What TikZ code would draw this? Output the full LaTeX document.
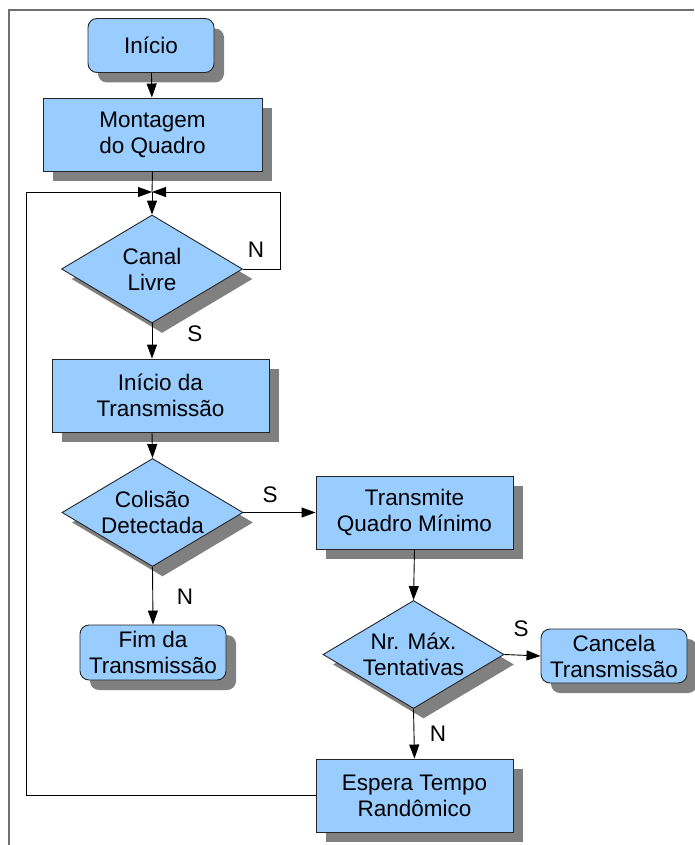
\documentclass[tikz,border=0pt]{standalone}
\usepackage{fontspec}
\setmainfont{Liberation Sans}
\usetikzlibrary{shapes.geometric,shadows,arrows.meta}
\definecolor{boxblue}{HTML}{99CCFF}
\definecolor{shadowgray}{HTML}{808080}
\definecolor{framegray}{HTML}{707070}
\tikzset{
  base/.style={draw=black!85, line width=0.9pt, fill=boxblue,
    font=\fontsize{22.5}{26}\selectfont, align=center, inner sep=0pt,
    drop shadow={shadow xshift=10pt, shadow yshift=-10pt, fill=shadowgray, opacity=1}},
  procbox/.style={base, rectangle, minimum height=73pt},
  termbox/.style={base, rectangle, rounded corners=9pt, minimum height=54pt},
  decision/.style={base, diamond, inner sep=-14pt, minimum width=181pt, minimum height=108pt},
  flowlabel/.style={font=\fontsize{22.5}{26}\selectfont, inner sep=0pt},
  conn/.style={line width=0.9pt, black},
  arr/.style={conn, -{Triangle[length=14pt, width=10pt]}}
}
\begin{document}
\begin{tikzpicture}[x=1pt, y=-1pt]
\useasboundingbox (0,0) rectangle (694,845);
% outer frame
\draw[framegray, line width=2pt] (9,845) -- (9,10) -- (694,10);

% nodes
\node[termbox, minimum width=126pt] (inicio) at (151,45.5) {Início};
\node[procbox, minimum width=219pt] (montagem) at (152.5,134.5) {Montagem\\do Quadro};
\node[decision] (canal) at (152,269) {Canal\\Livre};
\node[procbox, minimum width=217pt] (iniciotx) at (160.5,395.5) {Início da\\Transmissão};
\node[decision] (colisao) at (152.5,512.5) {Colisão\\Detectada};
\node[procbox, minimum width=197pt] (transmite) at (414.5,512.5) {Transmite\\Quadro Mínimo};
\node[termbox, minimum width=146pt, minimum height=55pt] (fim) at (153,652.5) {Fim da\\Transmissão};
\node[decision] (maximo) at (413.5,654.5) {Nr. Máx.\\Tentativas};
\node[termbox, minimum width=146pt] (cancela) at (614,656) {Cancela\\Transmissão};
\node[procbox, minimum width=197pt] (espera) at (414.5,795.5) {Espera Tempo\\Randômico};

% junction above the channel test
\coordinate (j) at (152,192);
\coordinate (loopR) at (280,192);
\coordinate (loopL) at (26,192);

% connectors
\draw[arr] (inicio) -- (montagem);
\draw[conn] (montagem.south) -- (j);
\draw[arr] (j) -- (canal.north);
\draw[arr] (canal.east) -| (loopR) -- (j);
\draw[arr] (espera.west) -| (loopL) -- (j);
\draw[arr] (canal.south) -- (canal.south |- iniciotx.north);
\draw[arr] (canal.south |- iniciotx.south) -- (colisao.north);
\draw[arr] (colisao.east) -- (transmite.west);
\draw[arr] (colisao.south) -- (fim.north);
\draw[arr] (transmite.south) -- (maximo.north);
\draw[arr] (maximo.east) -- (cancela.west);
\draw[arr] (maximo.south) -- (espera.north);

% branch labels
\node[flowlabel] (lblN1) at (256,250) {N};
\node[flowlabel] (lblS1) at (195,334) {S};
\node[flowlabel] (lblS2) at (270,495) {S};
\node[flowlabel] (lblN2) at (185,597) {N};
\node[flowlabel] (lblS3) at (521,629) {S};
\node[flowlabel] (lblN3) at (438,734) {N};
\end{tikzpicture}
\end{document}
